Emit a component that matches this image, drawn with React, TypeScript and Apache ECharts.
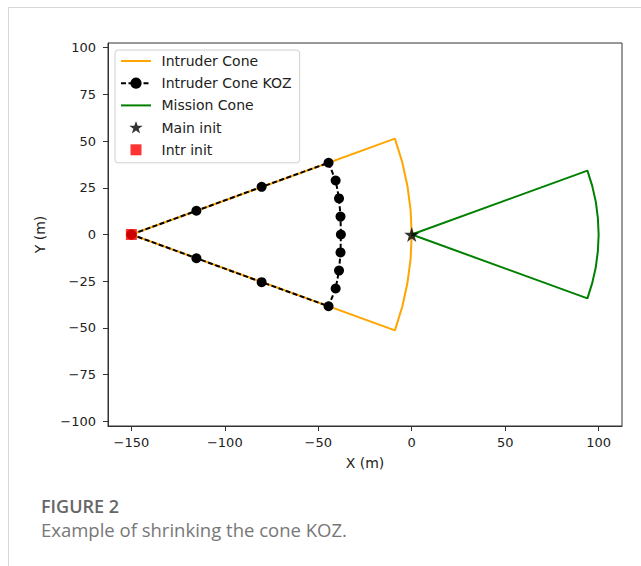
import React, { useEffect, useRef } from "react";
import * as echarts from "echarts";

// Intruder cone outline: apex at (-150, 0), straight edges, arc of radius 150.
const intruderConeX = [-150, -9.0, -5.1, -2.3, -0.6, 0, -0.6, -2.3, -5.1, -9.0, -150];
const intruderConeY = [0, 51.3, 38.8, 26.0, 13.1, 0, -13.1, -26.0, -38.8, -51.3, 0];

// Shrunk keep-out zone of the intruder cone.
const kozX = [-150, -115.2, -80.3, -44.5, -40.7, -38.9, -38.1, -37.9, -38.1, -38.9, -40.7, -44.5, -80.3, -115.2, -150];
const kozY = [0, 12.7, 25.5, 38.4, 28.9, 19.3, 9.6, 0, -9.6, -19.3, -28.9, -38.4, -25.5, -12.7, 0];

// Mission cone outline: apex at the main spacecraft, arc of radius 100.
const missionConeX = [0, 94.0, 96.6, 98.5, 99.6, 100, 99.6, 98.5, 96.6, 94.0, 0];
const missionConeY = [0, 34.2, 25.9, 17.4, 8.7, 0, -8.7, -17.4, -25.9, -34.2, 0];

const mainInit = [0, 0];
const intrInit = [-150, 0];

const xTicks = [-150, -100, -50, 0, 50, 100];
const yTicks = [-100, -75, -50, -25, 0, 25, 50, 75, 100];

const seriesNames = ["Intruder Cone", "Intruder Cone KOZ", "Mission Cone", "Main init", "Intr init"];

const STAR =
  "path://M50,0 L61.8,35.1 L98.1,35.1 L68.8,56.7 L79.4,90.9 L50,69.1 L20.6,90.9 L31.2,56.7 L1.9,35.1 L38.2,35.1 Z";
// Legend glyphs: a thin stroke for plain lines, and markers padded inside a 14px cell.
const LEGEND_LINE = "path://M0,0 h30 v2 h-30 Z";
const LEGEND_STAR =
  "path://M-2,-2 M102,98 M50,0 L61.8,35.1 L98.1,35.1 L68.8,56.7 L79.4,90.9 L50,69.1 L20.6,90.9 L31.2,56.7 L1.9,35.1 L38.2,35.1 Z";
const LEGEND_SQUARE = "path://M0,0 M14,14 M1.5,1.5 h11 v11 h-11 Z";

const zip = (xs: number[], ys: number[]) => xs.map((x, i) => [x, ys[i]]);
const minus = (v: number) => String(v).replace("-", "\u2212");

const AXIS_FONT = "DejaVu Sans";
const TEXT = "#222";

export default function App() {
  const ref = useRef<HTMLDivElement>(null);

  useEffect(() => {
    if (!ref.current) return;
    const chart = echarts.init(ref.current, undefined, { renderer: "svg" });

    const axisCommon = {
      type: "value" as const,
      splitLine: { show: false },
      axisLine: { show: true, onZero: false, lineStyle: { color: "#333", width: 1 } },
      axisTick: { show: true, length: 5, lineStyle: { color: "#333" } },
      nameLocation: "middle" as const,
      nameTextStyle: { fontFamily: AXIS_FONT, fontSize: 14, color: TEXT },
    };
    const tickLabel = {
      fontFamily: AXIS_FONT,
      fontSize: 13,
      color: TEXT,
      formatter: (v: number) => minus(v),
    };

    chart.setOption({
      animation: false,
      backgroundColor: "#fff",
      grid: {
        left: 108,
        right: 19,
        top: 43,
        bottom: 140,
        show: true,
        borderColor: "#333",
        borderWidth: 1,
        containLabel: false,
      },
      xAxis: {
        ...axisCommon,
        min: -162.5,
        max: 112.5,
        name: "X (m)",
        nameGap: 30,
        axisTick: { ...axisCommon.axisTick, customValues: xTicks },
        axisLabel: { ...tickLabel, customValues: xTicks, margin: 10 },
      },
      yAxis: {
        ...axisCommon,
        min: -102.5,
        max: 102.5,
        name: "Y (m)",
        nameGap: 61,
        axisTick: { ...axisCommon.axisTick, customValues: yTicks },
        axisLabel: { ...tickLabel, customValues: yTicks, margin: 12 },
      },
      legend: {
        orient: "vertical",
        left: 115,
        top: 50,
        data: [
          { name: seriesNames[0], icon: LEGEND_LINE },
          { name: seriesNames[1] },
          { name: seriesNames[2], icon: LEGEND_LINE },
          { name: seriesNames[3], icon: LEGEND_STAR },
          { name: seriesNames[4], icon: LEGEND_SQUARE },
        ],
        itemWidth: 30,
        itemHeight: 14,
        itemGap: 8.2,
        padding: [4, 8, 6, 5],
        borderColor: "#d0d0d0",
        borderWidth: 1,
        borderRadius: 3,
        backgroundColor: "rgba(255,255,255,0.8)",
        textStyle: {
          fontFamily: AXIS_FONT,
          fontSize: 14,
          color: TEXT,
          padding: [0, 0, 0, 5.5],
        },
      },
      series: [
        {
          name: seriesNames[0],
          type: "line",
          data: zip(intruderConeX, intruderConeY),
          symbol: "none",
          lineStyle: { color: "#ffa500", width: 2 },
          itemStyle: { color: "#ffa500" },
          z: 2,
        },
        {
          name: seriesNames[1],
          type: "line",
          data: zip(kozX, kozY),
          symbol: "circle",
          symbolSize: 10,
          showAllSymbol: true,
          lineStyle: { color: "#000", width: 2, type: [5, 2.5] },
          itemStyle: { color: "#000" },
          z: 3,
        },
        {
          name: seriesNames[2],
          type: "line",
          data: zip(missionConeX, missionConeY),
          symbol: "none",
          lineStyle: { color: "#008000", width: 2 },
          itemStyle: { color: "#008000" },
          z: 4,
        },
        {
          name: seriesNames[3],
          type: "scatter",
          data: [mainInit],
          symbol: STAR,
          symbolSize: 15,
          itemStyle: { color: "#000" },
          z: 5,
        },
        {
          name: seriesNames[4],
          type: "scatter",
          data: [intrInit],
          symbol: "rect",
          symbolSize: 11,
          itemStyle: { color: "#ff0000" },
          z: 6,
        },
      ],
      graphic: [
        {
          type: "line",
          shape: { x1: 8, y1: 7.5, x2: 641, y2: 7.5 },
          style: { stroke: "#d8d8d8", lineWidth: 1 },
        },
        {
          type: "line",
          shape: { x1: 8.5, y1: 7, x2: 8.5, y2: 566 },
          style: { stroke: "#d8d8d8", lineWidth: 1 },
        },
        {
          type: "text",
          left: 41,
          top: 497,
          style: {
            text: "FIGURE 2",
            fontFamily: "Open Sans",
            fontWeight: 600,
            fontSize: 18,
            fill: "#666",
          },
        },
        {
          type: "text",
          left: 41,
          top: 520,
          style: {
            text: "Example of shrinking the cone KOZ.",
            fontFamily: "Open Sans",
            fontSize: 18.5,
            fill: "#777",
          },
        },
      ],
    });

    return () => chart.dispose();
  }, []);

  return (
    <div
      ref={ref}
      style={{ position: "fixed", left: 0, top: 0, width: 641, height: 566, background: "#fff" }}
    />
  );
}
